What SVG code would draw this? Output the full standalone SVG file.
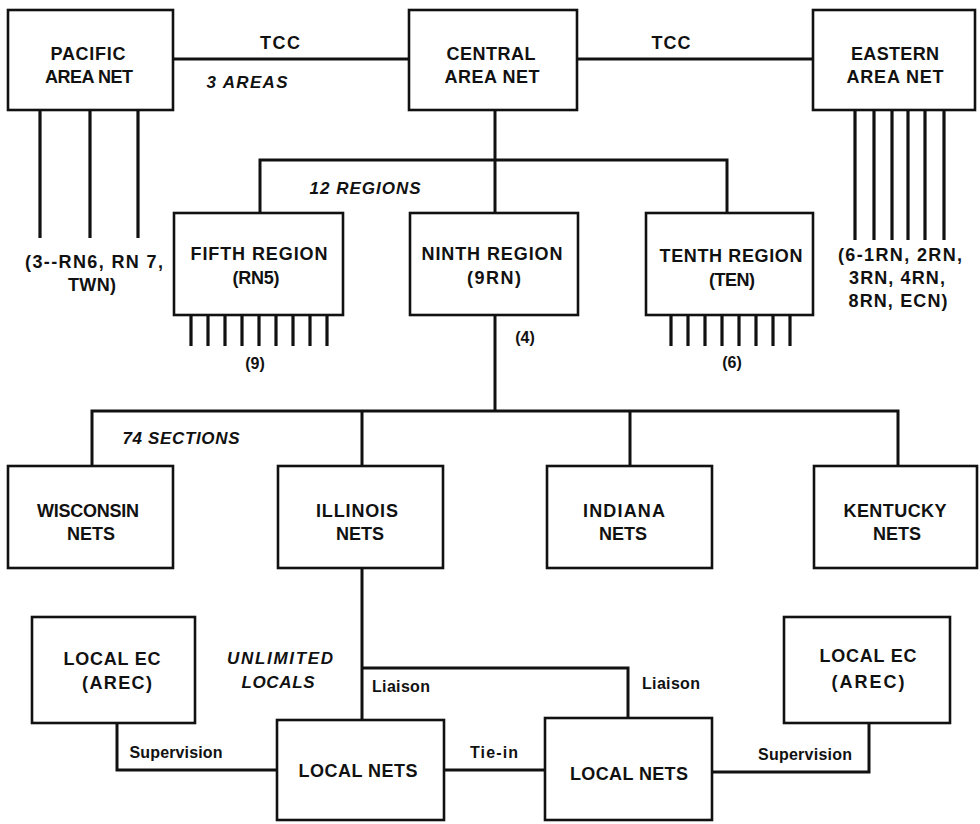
<svg xmlns="http://www.w3.org/2000/svg" width="980" height="824" viewBox="0 0 980 824">
<style>
.box{fill:#fff;stroke:#111;stroke-width:2.6}
.ln{fill:none;stroke:#111;stroke-width:3;stroke-linecap:square}
.st{fill:none;stroke:#111;stroke-width:3.2}
text{font-family:"Liberation Sans",Arial,sans-serif;font-weight:bold;fill:#111}
.t{font-size:18px;text-anchor:middle}
.s{font-size:16px;text-anchor:middle}
.i{font-size:17px;font-style:italic;text-anchor:middle}
</style>
<rect width="980" height="824" fill="#fff"/>
<g id="connectors">
<path class="ln" d="M173,59H409M577,59H813"/>
<path class="ln" d="M495,110V213M260,213V160H727V213"/>
<path class="st" d="M40,110V238M90,110V238M138,110V238"/>
<path class="st" d="M855,110V240M874,110V240M892,110V240M908,110V240M925,110V240M944,110V240"/>
<path class="st" d="M191,315V346M208,315V346M225,315V346M242,315V346M259,315V346M276,315V346M293,315V346M310,315V346M327,315V346"/>
<path class="st" d="M671,315V346M688,315V346M705,315V346M722,315V346M739,315V346M756,315V346M773,315V346M790,315V346"/>
<path class="ln" d="M495,315V411M92,466V411H898V466M362,411V466M630,411V466"/>
<path class="ln" d="M362,568V720M362,668H628V718"/>
<path class="ln" d="M117,723V770H277M444,770H545M712,772H869V723"/>
<text class="t" x="280" y="49" font-size="17" textLength="40" lengthAdjust="spacing">TCC</text>
<text class="t" x="671" y="49" font-size="17" textLength="39" lengthAdjust="spacing">TCC</text>
<text class="s" x="401" y="692" textLength="58" lengthAdjust="spacing">Liaison</text>
<text class="s" x="671" y="689" textLength="58" lengthAdjust="spacing">Liaison</text>
<text class="s" x="176" y="758" textLength="93" lengthAdjust="spacing">Supervision</text>
<text class="s" x="494" y="758" textLength="48" lengthAdjust="spacing">Tie-in</text>
<text class="s" x="805" y="760" textLength="94" lengthAdjust="spacing">Supervision</text>
<text class="s" x="255" y="369">(9)</text>
<text class="s" x="525" y="343">(4)</text>
<text class="s" x="732" y="368">(6)</text>
</g>
<g id="labels">
<text class="i" x="247" y="88" textLength="81" lengthAdjust="spacing">3 AREAS</text>
<text class="i" x="365" y="194" textLength="111" lengthAdjust="spacing">12 REGIONS</text>
<text class="i" x="181" y="444" textLength="117" lengthAdjust="spacing">74 SECTIONS</text>
<text class="i" x="280" y="664" textLength="106" lengthAdjust="spacing">UNLIMITED</text>
<text class="i" x="278" y="688" textLength="73" lengthAdjust="spacing">LOCALS</text>
<text class="t" x="94" y="268" textLength="138" lengthAdjust="spacing">(3--RN6, RN 7,</text>
<text class="t" x="92" y="291" textLength="48" lengthAdjust="spacing">TWN)</text>
<text class="t" x="900" y="261" textLength="124" lengthAdjust="spacing">(6-1RN, 2RN,</text>
<text class="t" x="897" y="284" textLength="96" lengthAdjust="spacing">3RN, 4RN,</text>
<text class="t" x="898" y="307" textLength="99" lengthAdjust="spacing">8RN, ECN)</text>
</g>
<g id="pacific"><rect class="box" x="8" y="10" width="165" height="100"/>
<text class="t" x="88" y="60" textLength="75" lengthAdjust="spacing">PACIFIC</text>
<text class="t" x="89" y="83" textLength="88" lengthAdjust="spacing">AREA NET</text></g>
<g id="central"><rect class="box" x="409" y="10" width="168" height="100"/>
<text class="t" x="491" y="60" textLength="89" lengthAdjust="spacing">CENTRAL</text>
<text class="t" x="492" y="83" textLength="95" lengthAdjust="spacing">AREA NET</text></g>
<g id="eastern"><rect class="box" x="813" y="10" width="162" height="100"/>
<text class="t" x="895" y="60" textLength="88" lengthAdjust="spacing">EASTERN</text>
<text class="t" x="895" y="83" textLength="97" lengthAdjust="spacing">AREA NET</text></g>
<g id="fifth"><rect class="box" x="174" y="213" width="169" height="102"/>
<text class="t" x="259" y="260" textLength="137" lengthAdjust="spacing">FIFTH REGION</text>
<text class="t" x="256" y="284" textLength="47" lengthAdjust="spacing">(RN5)</text></g>
<g id="ninth"><rect class="box" x="410" y="213" width="168" height="102"/>
<text class="t" x="492" y="260" textLength="141" lengthAdjust="spacing">NINTH REGION</text>
<text class="t" x="494" y="284" textLength="54" lengthAdjust="spacing">(9RN)</text></g>
<g id="tenth"><rect class="box" x="646" y="213" width="167" height="102"/>
<text class="t" x="731" y="262" textLength="143" lengthAdjust="spacing">TENTH REGION</text>
<text class="t" x="732" y="286" textLength="46" lengthAdjust="spacing">(TEN)</text></g>
<g id="wisconsin"><rect class="box" x="8" y="466" width="165" height="102"/>
<text class="t" x="88" y="517" textLength="102" lengthAdjust="spacing">WISCONSIN</text>
<text class="t" x="91" y="540">NETS</text></g>
<g id="illinois"><rect class="box" x="278" y="466" width="165" height="102"/>
<text class="t" x="357" y="517" textLength="82" lengthAdjust="spacing">ILLINOIS</text>
<text class="t" x="360" y="540">NETS</text></g>
<g id="indiana"><rect class="box" x="547" y="466" width="165" height="102"/>
<text class="t" x="624" y="517" textLength="82" lengthAdjust="spacing">INDIANA</text>
<text class="t" x="623" y="540">NETS</text></g>
<g id="kentucky"><rect class="box" x="814" y="466" width="163" height="102"/>
<text class="t" x="895" y="517" textLength="103" lengthAdjust="spacing">KENTUCKY</text>
<text class="t" x="897" y="540">NETS</text></g>
<g id="localec-left"><rect class="box" x="32" y="617" width="163" height="106"/>
<text class="t" x="112" y="665" textLength="97" lengthAdjust="spacing">LOCAL EC</text>
<text class="t" x="117" y="689" textLength="70" lengthAdjust="spacing">(AREC)</text></g>
<g id="localnets-left"><rect class="box" x="277" y="720" width="167" height="100"/>
<text class="t" x="358" y="777" textLength="119" lengthAdjust="spacing">LOCAL NETS</text></g>
<g id="localnets-right"><rect class="box" x="545" y="718" width="167" height="102"/>
<text class="t" x="629" y="780" textLength="118" lengthAdjust="spacing">LOCAL NETS</text></g>
<g id="localec-right"><rect class="box" x="784" y="617" width="166" height="106"/>
<text class="t" x="868" y="662" textLength="97" lengthAdjust="spacing">LOCAL EC</text>
<text class="t" x="868" y="688" textLength="73" lengthAdjust="spacing">(AREC)</text></g>
</svg>
